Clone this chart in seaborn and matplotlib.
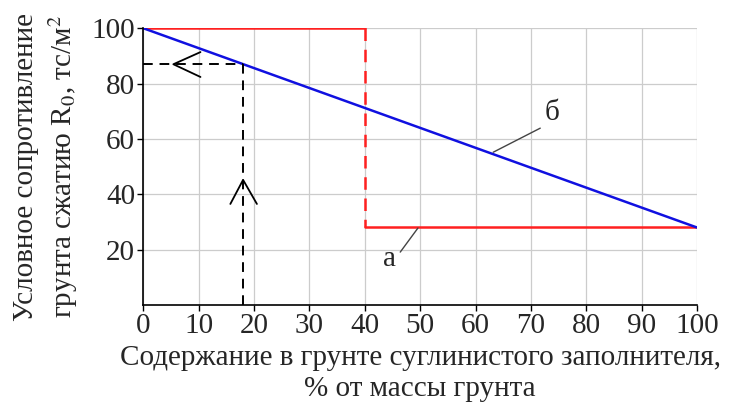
import matplotlib
matplotlib.use("Agg")
import matplotlib.pyplot as plt
import seaborn as sns

# Data
a_x = [0, 40, 40, 100]          # curve "а" (step)
a_y = [100, 100, 28, 28]
b_x = [0, 100]                  # curve "б" (linear)
b_y = [100, 28]
read_x = 18                     # example reading
read_y = 87
x_ticks = [0, 10, 20, 30, 40, 50, 60, 70, 80, 90, 100]
y_ticks = [20, 40, 60, 80, 100]

sns.set_theme(style="whitegrid")
plt.rcParams['font.family'] = ['Liberation Serif', 'DejaVu Serif']
plt.rcParams['mathtext.fontset'] = 'stix'

FS = 21

fig = plt.figure(figsize=(7.32, 4.16), dpi=100)
ax = fig.add_axes([0.196, 0.267, 0.756, 0.665])

red = "#ff2020"
blue = "#1010e0"
dash = (0, (5, 3.5))

# curve а: solid horizontal parts, dashed vertical drop
sns.lineplot(x=a_x[0:2], y=a_y[0:2], ax=ax, color=red, lw=1.8, sort=False)
ax.plot(a_x[1:3], a_y[1:3], color=red, lw=1.8, ls=dash)
sns.lineplot(x=a_x[2:4], y=a_y[2:4], ax=ax, color=red, lw=1.8, sort=False)
# curve б
sns.lineplot(x=b_x, y=b_y, ax=ax, color=blue, lw=1.8, sort=False)

# reading dashed lines
ax.plot([0, read_x], [read_y, read_y], color="black", lw=1.4, ls=dash)
ax.plot([read_x, read_x], [0, read_y], color="black", lw=1.4, ls=dash)
# chevrons
ax.plot([10.3, 5.4, 10.3], [91.4, read_y, 82.4], color="black", lw=1.3)
ax.plot([15.7, read_x, 20.5], [36.5, 45.2, 36.5], color="black", lw=1.3)

# labels а, б with leaders
ax.plot([63.2, 71.7], [55.2, 63.9], color="#444444", lw=1.0)
ax.text(72.5, 69.5, "б", fontsize=FS, ha="left", va="center")
ax.plot([49.6, 46.4], [27.8, 19.1], color="#444444", lw=1.0)
ax.text(44.5, 16.5, "а", fontsize=FS, ha="center", va="center")

ax.set_xlim(0, 100)
ax.set_ylim(0, 100)
ax.set_xticks(x_ticks)
ax.set_yticks(y_ticks)
ax.tick_params(axis="both", labelsize=FS, length=4, width=1, color="black",
               direction="out", pad=2)
ax.tick_params(axis="x", bottom=True)
ax.tick_params(axis="y", left=True)
ax.grid(True, color="#cccccc", lw=0.9)
for s in ["top", "right"]:
    ax.spines[s].set_visible(False)
for s in ["left", "bottom"]:
    ax.spines[s].set_color("black")
    ax.spines[s].set_linewidth(1.2)

ax.set_xlabel("Содержание в грунте суглинистого заполнителя,\n% от массы грунта",
              fontsize=FS, linespacing=1.25, labelpad=4)
ax.set_ylabel("Условное сопротивление\nгрунта сжатию R$_0$, тс/м$^2$",
              fontsize=FS, linespacing=1.3, labelpad=8)

fig.savefig("out.png", dpi=100, facecolor="white")
